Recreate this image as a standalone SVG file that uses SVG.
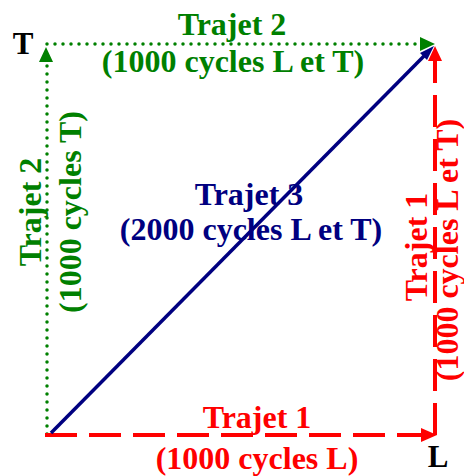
<svg xmlns="http://www.w3.org/2000/svg" width="464" height="476" viewBox="0 0 464 476">
<style>
text{font-family:"Liberation Serif","Times New Roman",serif;font-weight:bold;font-size:32px;text-anchor:middle}
.g{fill:#008000}.r{fill:#ff0000}.b{fill:#000080}.k{fill:#000}
.dot{stroke:#008000;stroke-width:3.5;stroke-linecap:round;stroke-dasharray:0 8;fill:none}
.dash{stroke:#ff0000;stroke-width:4;stroke-dasharray:32 12;fill:none}
.solid{stroke:#000080;stroke-width:3.5;fill:none}
</style>
<rect width="464" height="476" fill="#fff"/>
<g id="connectors">
  <line class="dot" x1="47" y1="434" x2="47" y2="60"/>
  <polygon class="g" points="46,47 39,62 53,62"/>
  <line class="dot" x1="47" y1="44" x2="421" y2="44"/>
  <polygon class="g" points="435,44 420,37 420,51"/>
  <line class="dash" x1="45" y1="435" x2="422" y2="435"/>
  <polygon class="r" points="437,435 421,428 421,442"/>
  <line class="dash" x1="435" y1="435" x2="435" y2="60"/>
  <polygon class="r" points="435,46 428,61 442,61"/>
  <line class="solid" x1="51" y1="433" x2="425" y2="55"/>
  <polygon class="b" points="434,46 420,53 427,60"/>
</g>
<g id="node-T"><text class="k" x="23" y="54" style="font-size:31px">T</text></g>
<g id="node-L"><text class="k" x="438" y="467" style="font-size:31px">L</text></g>
<g id="label-trajet2-top">
  <text class="g" x="232" y="35">Trajet 2</text>
  <text class="g" x="233" y="72">(1000 cycles L et T)</text>
</g>
<g id="label-trajet2-left">
  <text class="g" transform="translate(41,212) rotate(-90)">Trajet 2</text>
  <text class="g" transform="translate(81,212) rotate(-90)">(1000 cycles T)</text>
</g>
<g id="label-trajet3">
  <text class="b" x="249" y="205">Trajet 3</text>
  <text class="b" x="251" y="240">(2000 cycles L et T)</text>
</g>
<g id="label-trajet1-bottom">
  <text class="r" x="257" y="428">Trajet 1</text>
  <text class="r" x="257" y="469">(1000 cycles L)</text>
</g>
<g id="label-trajet1-right">
  <text class="r" transform="translate(427,247) rotate(-90)">Trajet 1</text>
  <text class="r" transform="translate(458,250) rotate(-90)">(1000 cycles L et T)</text>
</g>
</svg>
